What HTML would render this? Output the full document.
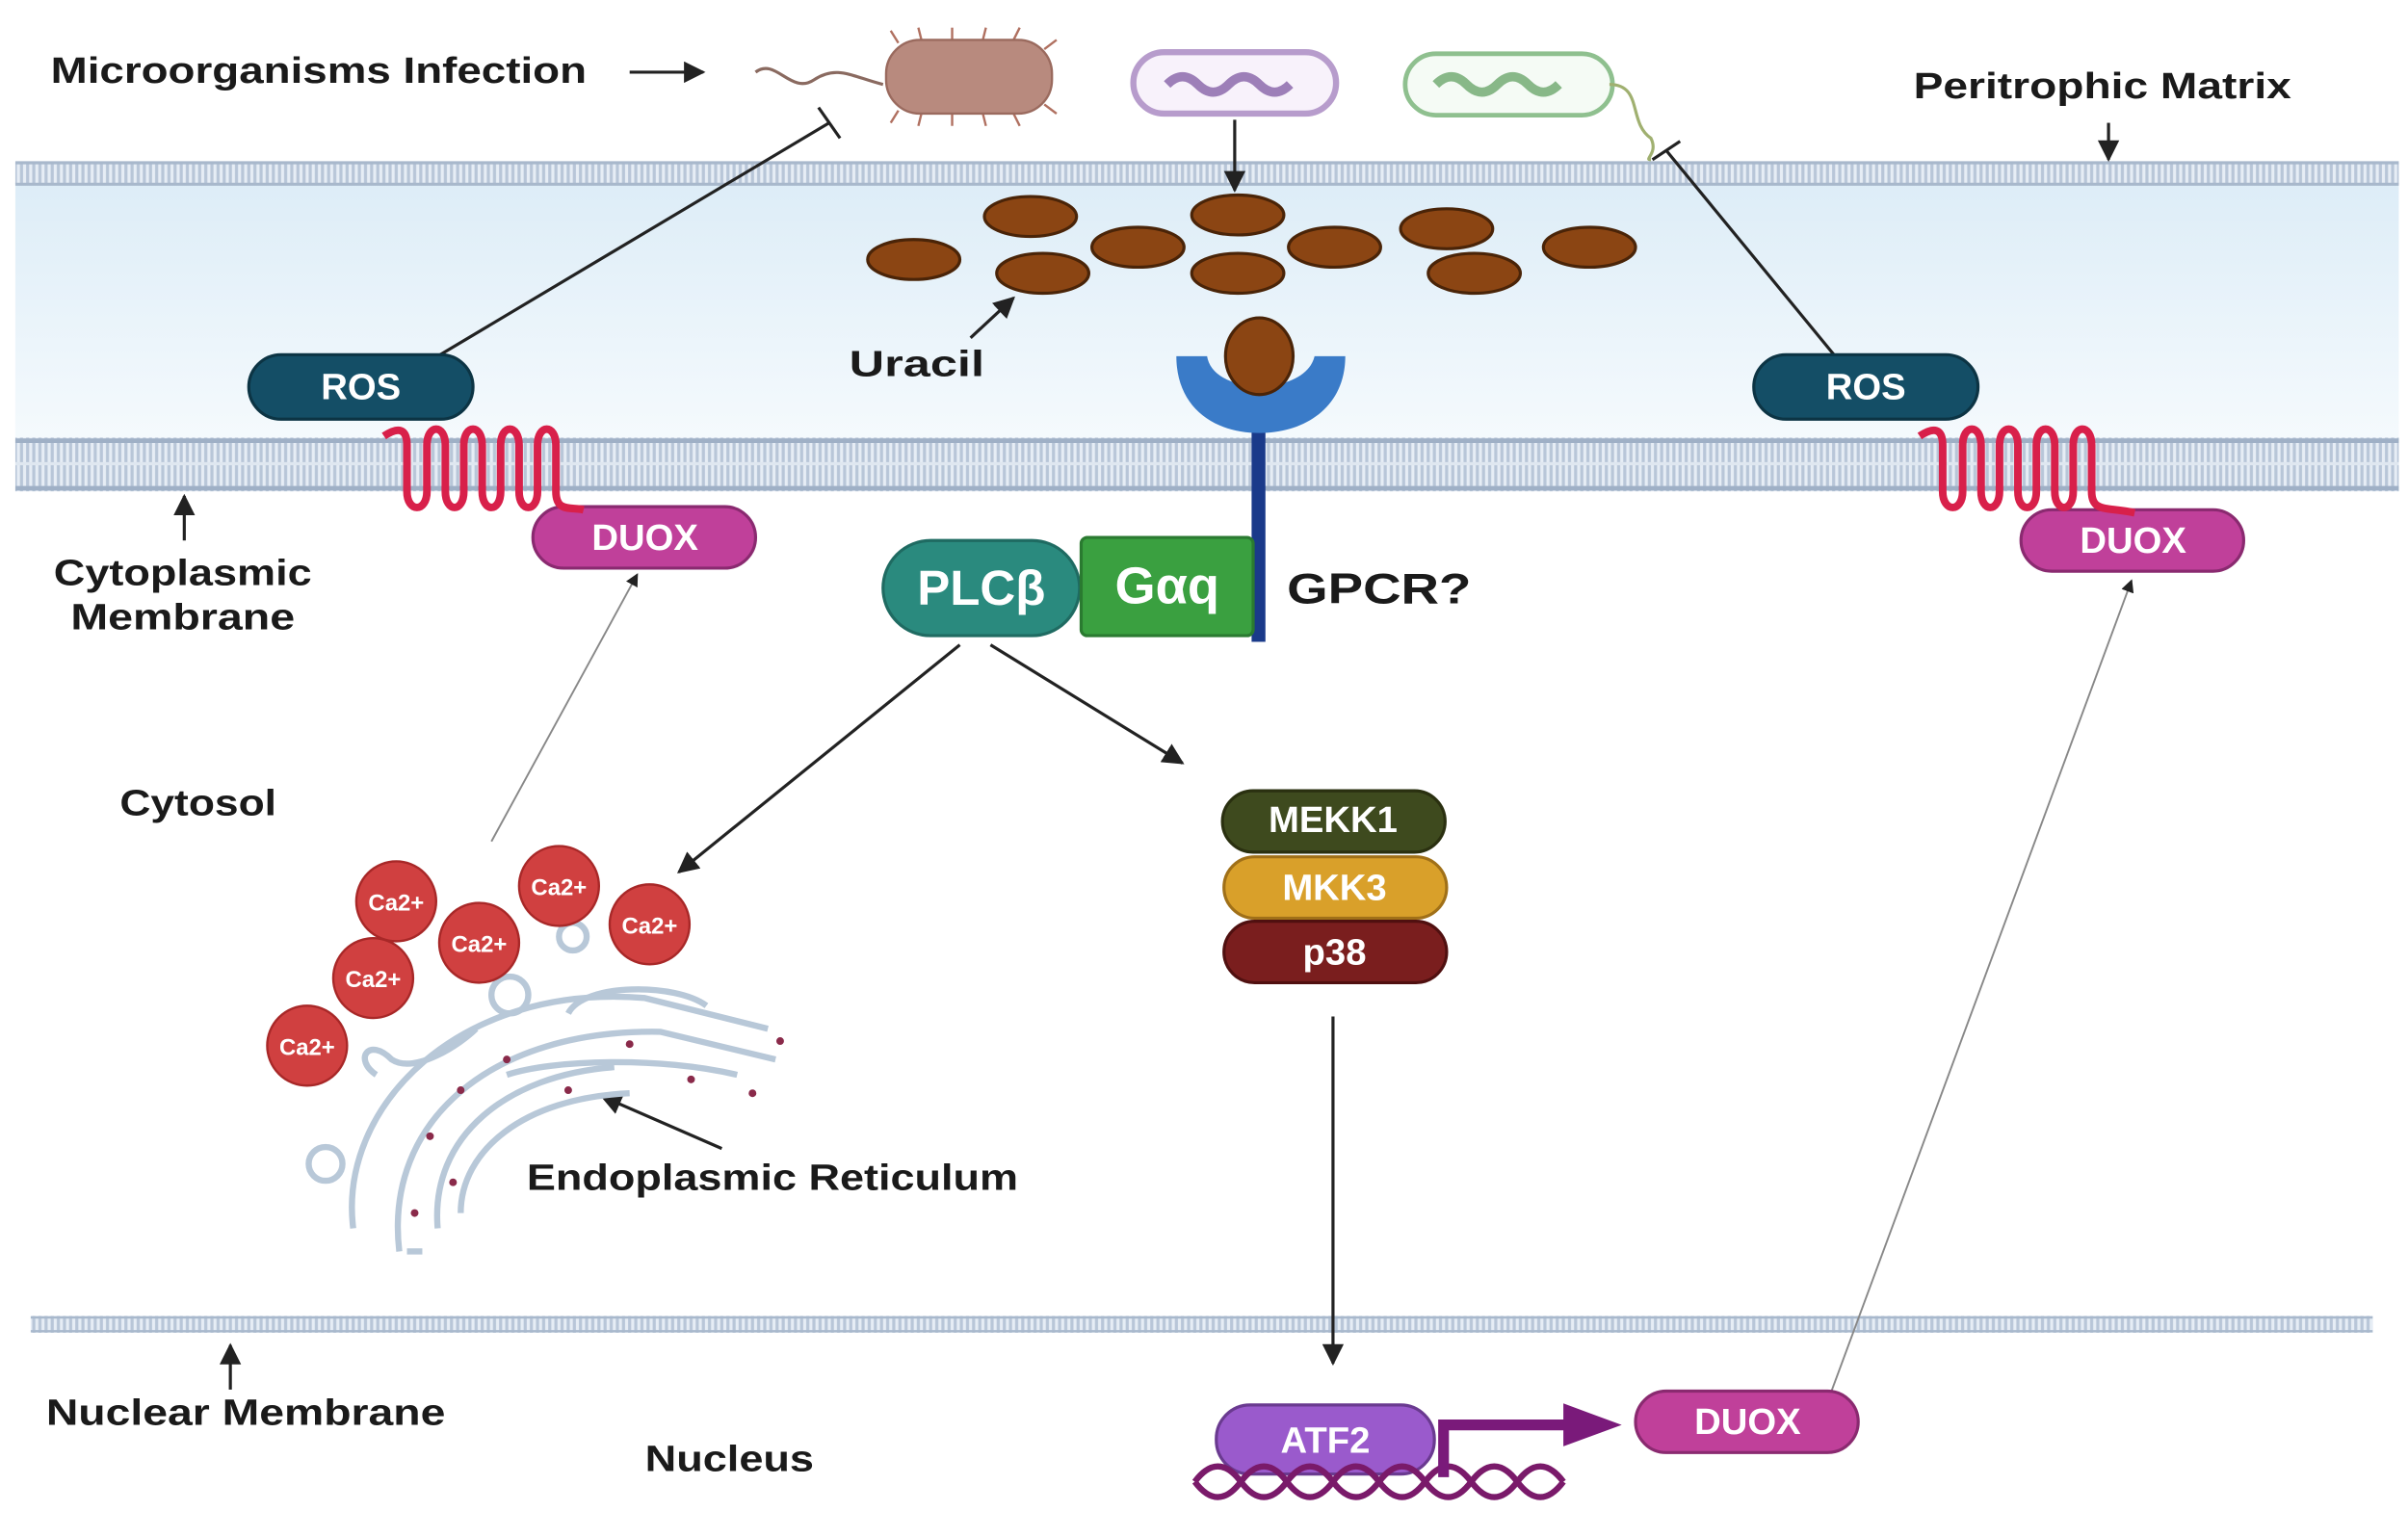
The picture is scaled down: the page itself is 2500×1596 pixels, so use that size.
<!DOCTYPE html>
<html><head><meta charset="utf-8"><style>html,body{margin:0;padding:0;background:#fff}svg{display:block}</style></head><body>
<svg width="2500" height="1596" viewBox="0 0 1568 1001" preserveAspectRatio="none" xmlns="http://www.w3.org/2000/svg" font-family="Liberation Sans, sans-serif">
<defs>
<pattern id="lip" width="4" height="40" patternUnits="userSpaceOnUse"><rect width="4" height="40" fill="#e6edf5"/><rect x="1" width="2" height="40" fill="#b8c6d8"/></pattern>
<linearGradient id="bg" x1="0" y1="0" x2="0" y2="1"><stop offset="0" stop-color="#dcecf7"/><stop offset="1" stop-color="#f5fafd"/></linearGradient>
<marker id="ah" viewBox="0 0 10 10" refX="9" refY="5" markerWidth="7" markerHeight="7" orient="auto"><path d="M0,0L10,5L0,10z" fill="#222"/></marker>
</defs>
<rect x="10" y="112" width="1552" height="175" fill="url(#bg)"/>
<rect x="10" y="106" width="1552" height="14" fill="url(#lip)"/>
<line x1="10" y1="106" x2="1562" y2="106" stroke="#a8b8cc" stroke-width="2"/>
<line x1="10" y1="120" x2="1562" y2="120" stroke="#a8b8cc" stroke-width="2"/>
<rect x="10" y="285" width="1552" height="35" fill="url(#lip)"/>
<line x1="10" y1="287" x2="1562" y2="287" stroke="#9fb0c6" stroke-width="3"/>
<line x1="10" y1="318" x2="1562" y2="318" stroke="#9fb0c6" stroke-width="3"/>
<line x1="10" y1="302" x2="1562" y2="302" stroke="#dfe7f0" stroke-width="2"/>
<rect x="20" y="857" width="1525" height="11" fill="url(#lip)"/>
<line x1="20" y1="858" x2="1545" y2="858" stroke="#a8b8cc" stroke-width="1.5"/>
<line x1="20" y1="867" x2="1545" y2="867" stroke="#a8b8cc" stroke-width="1.5"/>

<g font-weight="bold" fill="#1a1a1a" font-size="24">
<text x="33" y="54" textLength="349" lengthAdjust="spacingAndGlyphs">Microorganisms Infection</text>
<text x="1246" y="64" textLength="246" lengthAdjust="spacingAndGlyphs">Peritrophic Matrix</text>
<text x="553" y="245" textLength="88" lengthAdjust="spacingAndGlyphs">Uracil</text>
<text x="35" y="381" textLength="168" lengthAdjust="spacingAndGlyphs">Cytoplasmic</text>
<text x="46" y="410" textLength="146" lengthAdjust="spacingAndGlyphs">Membrane</text>
<text x="838" y="393" font-size="28" textLength="120" lengthAdjust="spacingAndGlyphs">GPCR?</text>
<text x="78" y="531" textLength="102" lengthAdjust="spacingAndGlyphs">Cytosol</text>
<text x="343" y="775" textLength="320" lengthAdjust="spacingAndGlyphs">Endoplasmic Reticulum</text>
<text x="30" y="928" textLength="260" lengthAdjust="spacingAndGlyphs">Nuclear Membrane</text>
<text x="420" y="958" textLength="110" lengthAdjust="spacingAndGlyphs">Nucleus</text>
</g>
<g stroke="#222" stroke-width="2" fill="none" marker-end="url(#ah)">
<line x1="410" y1="47" x2="458" y2="47"/>
<line x1="1373" y1="80" x2="1373" y2="104"/>
<line x1="120" y1="352" x2="120" y2="323"/>
<line x1="150" y1="905" x2="150" y2="876"/>
<line x1="632" y1="220" x2="660" y2="194"/>
<line x1="804" y1="78" x2="804" y2="124"/>
<line x1="470" y1="748" x2="392" y2="714"/>
<line x1="625" y1="420" x2="442" y2="568"/>
<line x1="645" y1="420" x2="770" y2="497"/>
<line x1="868" y1="662" x2="868" y2="888"/>
<line x1="320" y1="548" x2="415" y2="374" stroke="#888" stroke-width="1.2"/>
<line x1="1190" y1="913" x2="1388" y2="378" stroke="#888" stroke-width="1.2"/>
</g>
<g stroke="#222" stroke-width="2">
<line x1="285" y1="232" x2="540" y2="80"/><line x1="533" y1="70" x2="547" y2="90"/>
<line x1="1195" y1="232" x2="1085" y2="98"/><line x1="1076" y1="104" x2="1094" y2="92"/>
</g>
<path d="M492,47 C505,37 515,62 530,52 S555,50 575,55" stroke="#8a6a60" stroke-width="2" fill="none"/>
<g stroke="#b07060" stroke-width="1.5">
<line x1="585" y1="28" x2="580" y2="20"/><line x1="600" y1="26" x2="598" y2="18"/><line x1="620" y1="26" x2="620" y2="18"/><line x1="640" y1="26" x2="642" y2="18"/><line x1="660" y1="26" x2="664" y2="18"/><line x1="680" y1="32" x2="688" y2="26"/>
<line x1="585" y1="72" x2="580" y2="80"/><line x1="600" y1="74" x2="598" y2="82"/><line x1="620" y1="74" x2="620" y2="82"/><line x1="640" y1="74" x2="642" y2="82"/><line x1="660" y1="74" x2="664" y2="82"/><line x1="680" y1="68" x2="688" y2="74"/>
</g>
<rect x="577" y="26" width="108" height="48" rx="22" fill="#b88a7e" stroke="#9a6a5e" stroke-width="1.5"/>
<rect x="738" y="34" width="132" height="40" rx="20" fill="#f8f2fb" stroke="#b79ccc" stroke-width="4"/>
<path d="M760,55 q10,-10 20,0 t20,0 t20,0 t20,0" stroke="#9d7fb8" stroke-width="6" fill="none"/>
<rect x="915" y="35" width="135" height="40" rx="20" fill="#f5fbf5" stroke="#8fc08f" stroke-width="3"/>
<path d="M935,55 q10,-10 20,0 t20,0 t20,0 t20,0" stroke="#88b888" stroke-width="6" fill="none"/>
<path d="M1048,55 C1070,55 1060,80 1075,90 C1080,100 1070,104 1075,104" stroke="#a0b070" stroke-width="2" fill="none"/>
<g fill="#8b4513" stroke="#4a2408" stroke-width="2">
<ellipse cx="595" cy="169" rx="30" ry="13"/><ellipse cx="671" cy="141" rx="30" ry="13"/><ellipse cx="679" cy="178" rx="30" ry="13"/>
<ellipse cx="741" cy="161" rx="30" ry="13"/><ellipse cx="806" cy="140" rx="30" ry="13"/><ellipse cx="806" cy="178" rx="30" ry="13"/>
<ellipse cx="869" cy="161" rx="30" ry="13"/><ellipse cx="942" cy="149" rx="30" ry="13"/><ellipse cx="960" cy="178" rx="30" ry="13"/><ellipse cx="1035" cy="161" rx="30" ry="13"/>
</g>
<rect x="815" y="270" width="9" height="148" fill="#1a3a8a"/>
<path d="M766,232 L786,232 C790,258 850,258 856,232 L876,232 C876,265 850,282 820,282 C790,282 766,265 766,232 Z" fill="#3a7bc8"/>
<ellipse cx="820" cy="232" rx="22" ry="25" fill="#8b4513" stroke="#4a2408" stroke-width="2"/>
<rect x="575" y="352" width="128" height="62" rx="31" fill="#2a8a7e" stroke="#1f6b62" stroke-width="2"/>
<text x="639" y="394" font-size="32" font-weight="bold" fill="#fff" text-anchor="middle">PLCβ</text>
<rect x="704" y="350" width="112" height="64" rx="4" fill="#3aa040" stroke="#2a7a30" stroke-width="2"/>
<text x="760" y="393" font-size="34" font-weight="bold" fill="#fff" text-anchor="middle">Gαq</text>
<g font-weight="bold" font-size="24" fill="#fff" text-anchor="middle">
<rect x="162" y="231" width="146" height="42" rx="21" fill="#144e66" stroke="#0c3444" stroke-width="2"/><text x="235" y="260">ROS</text>
<rect x="1142" y="231" width="146" height="42" rx="21" fill="#144e66" stroke="#0c3444" stroke-width="2"/><text x="1215" y="260">ROS</text>
<rect x="347" y="330" width="145" height="40" rx="20" fill="#c0409a" stroke="#8a2a70" stroke-width="2"/><text x="420" y="358">DUOX</text>
<rect x="1316" y="332" width="145" height="40" rx="20" fill="#c0409a" stroke="#8a2a70" stroke-width="2"/><text x="1389" y="360">DUOX</text>
<rect x="1065" y="906" width="145" height="40" rx="20" fill="#c0409a" stroke="#8a2a70" stroke-width="2"/><text x="1138" y="934">DUOX</text>
<rect x="796" y="515" width="145" height="40" rx="20" fill="#3e4a1e" stroke="#2a3010" stroke-width="2"/><text x="868" y="542">MEKK1</text>
<rect x="797" y="558" width="145" height="40" rx="20" fill="#d9a02a" stroke="#a07018" stroke-width="2"/><text x="869" y="586">MKK3</text>
<rect x="797" y="600" width="145" height="40" rx="20" fill="#7a1e1e" stroke="#501010" stroke-width="2"/><text x="869" y="628">p38</text>
<rect x="792" y="915" width="142" height="45" rx="22" fill="#9a5acc" stroke="#6a3a90" stroke-width="2"/><text x="863" y="946">ATF2</text>
</g>
<g stroke="#d8204a" stroke-width="5" fill="none">
<path d="M250,284 C262,276 265,282 265,290 L265,320 C265,334 278,334 278,320 L278,290 C278,276 290,276 290,290 L290,320 C290,334 302,334 302,320 L302,290 C302,276 314,276 314,290 L314,320 C314,334 326,334 326,320 L326,290 C326,276 338,276 338,290 L338,320 C338,334 350,334 350,320 L350,290 C350,276 362,276 362,290 L362,320 C362,334 372,330 380,332"/>
<path d="M1250,284 C1262,276 1265,282 1265,290 L1265,320 C1265,334 1278,334 1278,320 L1278,290 C1278,276 1290,276 1290,290 L1290,320 C1290,334 1302,334 1302,320 L1302,290 C1302,276 1314,276 1314,290 L1314,320 C1314,334 1326,334 1326,320 L1326,290 C1326,276 1338,276 1338,290 L1338,320 C1338,334 1350,334 1350,320 L1350,290 C1350,276 1362,276 1362,290 L1362,320 C1362,334 1372,330 1390,334"/>
</g>
<g stroke="#b8c8d8" stroke-width="4" fill="none">
<path d="M230,800 C220,720 300,640 420,650 L500,670"/>
<path d="M260,815 C250,730 320,670 430,672 L505,690"/>
<path d="M265,815 L275,815"/>
<path d="M285,800 C280,740 330,700 400,695"/>
<path d="M300,790 C300,750 340,715 410,712"/>
<path d="M330,700 C360,690 430,688 480,700"/>
<path d="M370,660 C380,640 440,640 460,655"/>
<circle cx="212" cy="758" r="11"/><circle cx="332" cy="648" r="12"/><circle cx="373" cy="610" r="9"/>
<path d="M245,700 C230,690 240,675 255,690 C270,700 300,680 310,670"/>
</g>
<g fill="#8a2a4a"><circle cx="280" cy="740" r="2.5"/><circle cx="300" cy="710" r="2.5"/><circle cx="330" cy="690" r="2.5"/><circle cx="370" cy="710" r="2.5"/><circle cx="410" cy="680" r="2.5"/><circle cx="450" cy="703" r="2.5"/><circle cx="490" cy="712" r="2.5"/><circle cx="270" cy="790" r="2.5"/><circle cx="295" cy="770" r="2.5"/><circle cx="508" cy="678" r="2.5"/></g>
<g fill="#d04040" stroke="#a82828" stroke-width="1.5">
<circle cx="258" cy="587" r="26"/><circle cx="312" cy="614" r="26"/><circle cx="364" cy="577" r="26"/><circle cx="423" cy="602" r="26"/><circle cx="243" cy="637" r="26"/><circle cx="200" cy="681" r="26"/>
</g>
<g fill="#fff" font-size="15" font-weight="bold" text-anchor="middle">
<text x="258" y="593">Ca2+</text><text x="312" y="620">Ca2+</text><text x="364" y="583">Ca2+</text><text x="423" y="608">Ca2+</text><text x="243" y="643">Ca2+</text><text x="200" y="687">Ca2+</text>
</g>
<g stroke="#7a1a6a" stroke-width="4" fill="none">
<path d="M778,965 q15,-20 30,0 t30,0 t30,0 t30,0 t30,0 t30,0 t30,0 t30,0"/>
<path d="M778,965 q15,20 30,0 t30,0 t30,0 t30,0 t30,0 t30,0 t30,0 t30,0"/>
</g>
<path d="M940,962 L940,928 L1022,928" stroke="#7a1a7a" stroke-width="7" fill="none"/>
<path d="M1018,914 L1056,928 L1018,942 Z" fill="#7a1a7a"/>
</svg>
</body></html>
